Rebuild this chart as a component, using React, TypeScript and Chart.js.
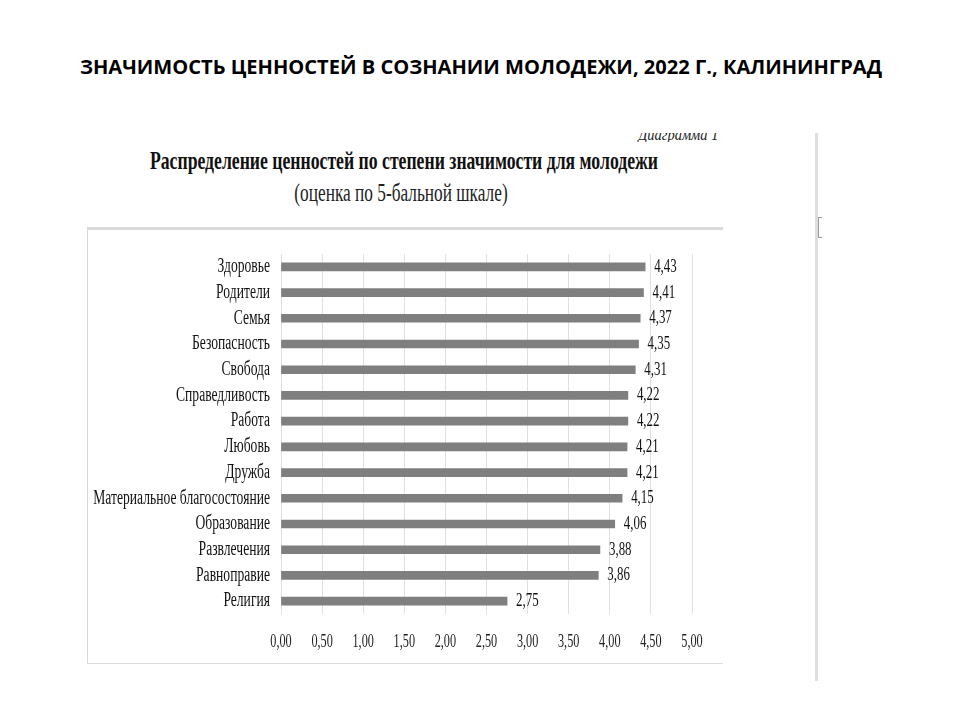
import { useEffect, useLayoutEffect, useRef, useState } from "react"
import { Chart, registerables } from "chart.js"

Chart.register(...registerables)

const categories = [
  "Здоровье",
  "Родители",
  "Семья",
  "Безопасность",
  "Свобода",
  "Справедливость",
  "Работа",
  "Любовь",
  "Дружба",
  "Материальное благосостояние",
  "Образование",
  "Развлечения",
  "Равноправие",
  "Религия",
]

const scores = [4.43, 4.41, 4.37, 4.35, 4.31, 4.22, 4.22, 4.21, 4.21, 4.15, 4.06, 3.88, 3.86, 2.75]

const xTicks = [0, 0.5, 1, 1.5, 2, 2.5, 3, 3.5, 4, 4.5, 5]

const fmt = (v: number) => v.toFixed(2).replace(".", ",")

// the scanned chart uses a squeezed Times face, so text is drawn narrowed
const SQUEEZE = 0.68
const SERIF = '"Liberation Serif", "Times New Roman", serif'

function drawSqueezed(
  ctx: CanvasRenderingContext2D,
  text: string,
  x: number,
  y: number,
  align: CanvasTextAlign,
  size: number,
  color: string
) {
  ctx.save()
  ctx.translate(x, y)
  ctx.scale(SQUEEZE, 1)
  ctx.font = `${size}px ${SERIF}`
  ctx.fillStyle = color
  ctx.textAlign = align
  ctx.textBaseline = "middle"
  ctx.fillText(text, 0, 0)
  ctx.restore()
}

const textPlugin = {
  id: "squeezedText",
  afterDraw(chart: any) {
    const { ctx, chartArea, scales } = chart
    const xs = scales.x
    const ys = scales.y
    categories.forEach((name, i) => {
      const y = ys.getPixelForValue(i)
      drawSqueezed(ctx, name, chartArea.left - 11, y, "right", 20, "#111")
      const end = xs.getPixelForValue(scores[i])
      drawSqueezed(ctx, fmt(scores[i]), end + 9, y, "left", 19, "#111")
    })
    xTicks.forEach((t) => {
      drawSqueezed(ctx, fmt(t), xs.getPixelForValue(t), chartArea.bottom + 28, "center", 18, "#222")
    })
  },
}

function FitText({
  text,
  cx,
  cy,
  width,
  style,
}: {
  text: string
  cx: number
  cy: number
  width: number
  style: React.CSSProperties
}) {
  const ref = useRef<HTMLSpanElement>(null)
  const [sx, setSx] = useState(1)
  useLayoutEffect(() => {
    if (ref.current) setSx(width / ref.current.offsetWidth)
  }, [text, width])
  return (
    <span
      ref={ref}
      style={{
        position: "absolute",
        left: cx,
        top: cy,
        whiteSpace: "nowrap",
        lineHeight: 1,
        transform: `translate(-50%, -50%) scaleX(${sx})`,
        ...style,
      }}
    >
      {text}
    </span>
  )
}

function ValuesChart() {
  const canvasRef = useRef<HTMLCanvasElement>(null)
  const chartRef = useRef<Chart | null>(null)

  useEffect(() => {
    if (!canvasRef.current) return
    if (chartRef.current) chartRef.current.destroy()

    chartRef.current = new Chart(canvasRef.current, {
      type: "bar",
      data: {
        labels: categories,
        datasets: [
          {
            data: scores,
            backgroundColor: "#7f7f7f",
            barThickness: 8,
          },
        ],
      },
      options: {
        indexAxis: "y",
        animation: false,
        responsive: false,
        layout: { padding: { top: 24, right: 30, left: 0, bottom: 0 } },
        plugins: {
          legend: { display: false },
          tooltip: { enabled: false },
        },
        scales: {
          x: {
            min: 0,
            max: 5,
            afterBuildTicks: (s: any) => {
              s.ticks = xTicks.map((v) => ({ value: v }))
            },
            afterFit: (s: any) => {
              s.height = 48
            },
            grid: { color: "#e0e0e0", lineWidth: 1, drawTicks: false },
            border: { display: false },
            ticks: { display: false },
          },
          y: {
            afterFit: (s: any) => {
              s.width = 193
            },
            grid: { display: false },
            border: { display: false },
            ticks: { display: false },
          },
        },
      },
      plugins: [textPlugin],
    })

    const c = chartRef.current
    document.fonts?.ready.then(() => c.draw())

    return () => {
      if (chartRef.current) {
        chartRef.current.destroy()
        chartRef.current = null
      }
    }
  }, [])

  return (
    <canvas
      ref={canvasRef}
      width={634}
      height={432}
      style={{ position: "absolute", left: 88, top: 230, width: 634, height: 432 }}
    />
  )
}

export default function App() {
  return (
    <div
      style={{
        position: "absolute",
        left: 0,
        top: 0,
        width: 960,
        height: 720,
        background: "#fff",
        overflow: "hidden",
      }}
    >
      <FitText
        text="ЗНАЧИМОСТЬ ЦЕННОСТЕЙ В СОЗНАНИИ МОЛОДЕЖИ, 2022 Г., КАЛИНИНГРАД"
        cx={481}
        cy={67}
        width={802}
        style={{ fontFamily: '"Open Sans", sans-serif', fontWeight: 700, fontSize: 20, color: "#000" }}
      />

      {/* cut-off caption of the scanned figure, only its lower half shows */}
      <div
        style={{
          position: "absolute",
          left: 596,
          top: 133,
          width: 122,
          height: 9,
          overflow: "hidden",
        }}
      >
        <div
          style={{
            position: "absolute",
            right: 0,
            top: -7,
            whiteSpace: "nowrap",
            fontFamily: SERIF,
            fontStyle: "italic",
            fontSize: 17,
            lineHeight: "17px",
            color: "#222",
            transform: "scaleX(0.85)",
            transformOrigin: "right center",
          }}
        >
          Диаграмма 1
        </div>
      </div>

      <FitText
        text="Распределение ценностей по степени значимости для молодежи"
        cx={404}
        cy={160}
        width={508}
        style={{ fontFamily: SERIF, fontWeight: 700, fontSize: 25, color: "#111" }}
      />
      <FitText
        text="(оценка по 5-бальной шкале)"
        cx={401}
        cy={192}
        width={213}
        style={{ fontFamily: SERIF, fontSize: 25, color: "#222" }}
      />

      {/* frame of the pasted chart picture */}
      <div style={{ position: "absolute", left: 87, top: 227, width: 636, height: 3, background: "#d9d9d9" }} />
      <div style={{ position: "absolute", left: 87, top: 228, width: 1, height: 436, background: "#d9d9d9" }} />
      <div style={{ position: "absolute", left: 87, top: 663, width: 636, height: 1, background: "#dcdcdc" }} />

      {/* window edge on the right of the slide */}
      <div style={{ position: "absolute", left: 815, top: 133, width: 3, height: 548, background: "#dedede" }} />
      <div
        style={{
          position: "absolute",
          left: 818,
          top: 217,
          width: 3,
          height: 19,
          border: "1px solid #9a9a9a",
          borderRight: "none",
        }}
      />

      <ValuesChart />
    </div>
  )
}
